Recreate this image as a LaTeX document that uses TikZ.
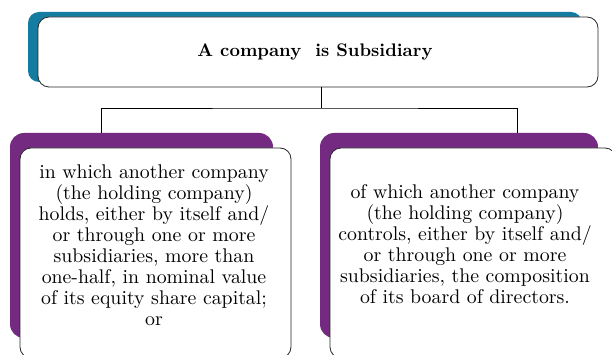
\documentclass[tikz,border=0pt]{standalone}
\usepackage{fontspec}
\setmainfont{lmroman10-regular.otf}[BoldFont=lmroman10-bold.otf]
\definecolor{tealc}{RGB}{20,124,160}
\definecolor{purplec}{RGB}{115,42,128}
\begin{document}
\begin{tikzpicture}[x=1pt,y=-1pt,
  basebox/.style={inner sep=0pt, outer sep=0pt, anchor=north west},
  tealbox/.style={basebox, fill=tealc, rounded corners=11pt},
  purplebox/.style={basebox, fill=purplec, rounded corners=14pt},
  whitebox/.style={basebox, fill=white, draw=black!85, line width=0.8pt, rounded corners=11pt},
  bodytext/.style={align=center, inner sep=0pt, font=\fontsize{19.8}{21}\selectfont},
  titletext/.style={font=\bfseries\fontsize{18.2}{20}\selectfont},
  link/.style={draw=black, line width=0.9pt}
]
\useasboundingbox (0,0) rectangle (612,355);
\clip (0,0) rectangle (612,355);
\fill[white] (0,0) rectangle (612,355);

% top box
\node[tealbox, minimum width=554pt, minimum height=70pt] (topback) at (28,12) {};
\node[whitebox, minimum width=560pt, minimum height=70pt] (top) at (38,17) {};
\node[titletext] (title) at (315,52) {A company\ \ is Subsidiary};

% lower boxes
\node[purplebox, minimum width=263pt, minimum height=205pt] (lback) at (10,133) {};
\node[whitebox, minimum width=271pt, minimum height=210pt] (left) at (20,148) {};
\node[purplebox, minimum width=278pt, minimum height=205pt] (rback) at (320,133) {};
\node[whitebox, minimum width=286pt, minimum height=210pt] (right) at (330,148) {};

\node[bodytext] (ltext) at (154,245) {in which another company\\(the holding company)\\holds, either by itself and/\\or through one or more\\subsidiaries, more than\\one-half, in nominal value\\of its equity share capital;\\or};
\node[bodytext] (rtext) at (465,244) {of which another company\\(the holding company)\\controls, either by itself and/\\or through one or more\\subsidiaries, the composition\\of its board of directors.};

% connectors
\coordinate (j) at (321,108);
\coordinate (cl) at (101,133);
\coordinate (cr) at (517,133);
\draw[link] (j |- top.south) -- (j);
\draw[link] (cl) |- (j) -| (cr);
\end{tikzpicture}
\end{document}
